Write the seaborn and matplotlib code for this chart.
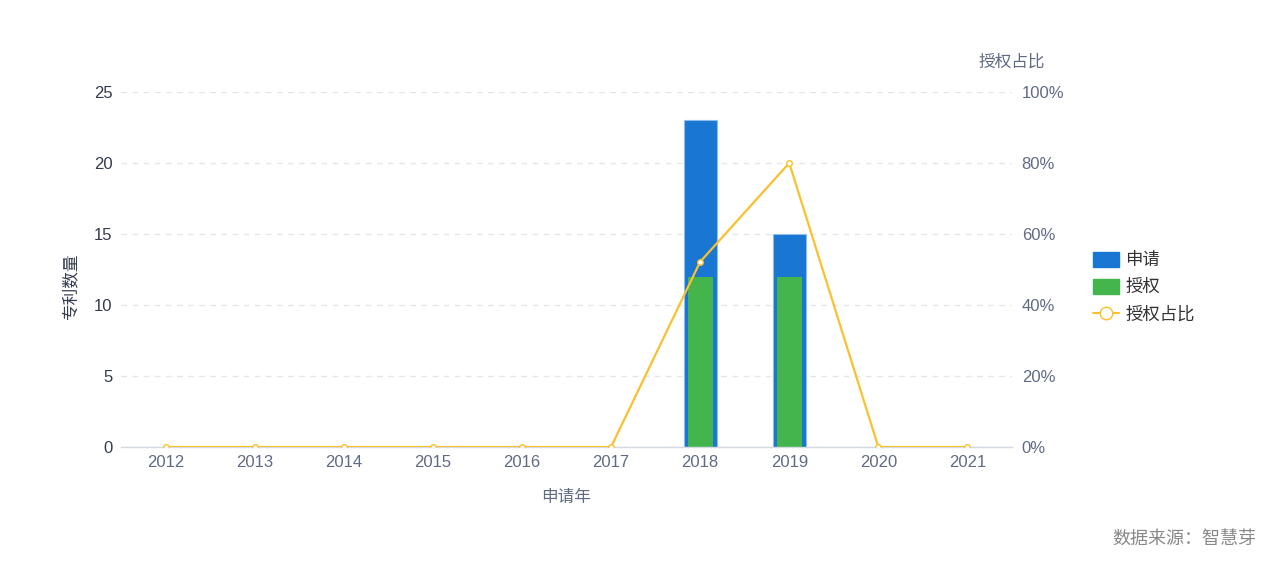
import numpy as np
import pandas as pd
import matplotlib
matplotlib.use("Agg")
import matplotlib.pyplot as plt
import seaborn as sns
from matplotlib.patches import Patch
from matplotlib.lines import Line2D
from matplotlib.ticker import FuncFormatter

years = ["2012", "2013", "2014", "2015", "2016", "2017", "2018", "2019", "2020", "2021"]
applied = [0, 0, 0, 0, 0, 0, 23, 15, 0, 0]
granted = [0, 0, 0, 0, 0, 0, 12, 12, 0, 0]
ratio = [0, 0, 0, 0, 0, 0, 52.17, 80.0, 0, 0]

sns.set_theme(style="white")
plt.rcParams['font.family'] = ['Liberation Sans', 'Noto Sans CJK SC', 'DejaVu Sans']

df = pd.DataFrame({"year": years, "applied": applied, "granted": granted, "ratio": ratio})

BLUE = "#1976D2"
GREEN = "#43B54C"
YELLOW = "#FBC02D"
TICK = "#5F6B85"
DARK = "#333B4E"
FS = 12

fig = plt.figure(figsize=(12.66, 5.61), dpi=100)
ax = fig.add_axes([121/1266, 1 - 447/561, (1012-121)/1266, (447-92)/561])

sns.barplot(data=df, x="year", y="applied", color=BLUE, width=0.37, ax=ax,
            saturation=1, edgecolor="#8FBDEB", linewidth=0.8, order=years)
sns.barplot(data=df, x="year", y="granted", color=GREEN, width=0.28, ax=ax,
            saturation=1, linewidth=0, order=years)

ax.set_ylim(0, 25)
ax.set_yticks([0, 5, 10, 15, 20, 25])
ax.set_xlim(-0.5, 9.5)
ax.grid(axis="y", color="#E3E6EC", linestyle=(0, (4, 4)), linewidth=1)
ax.set_axisbelow(True)
for s in ["top", "right", "left"]:
    ax.spines[s].set_visible(False)
ax.spines["bottom"].set_color("#D5D9E0")
ax.spines["bottom"].set_linewidth(1)
ax.tick_params(axis="y", length=0, pad=6, labelsize=FS, labelcolor=DARK)
ax.tick_params(axis="x", length=0, pad=6, labelsize=FS, labelcolor=TICK)
ax.set_xlabel("申请年", fontsize=FS, color=TICK, labelpad=14)
ax.set_ylabel("专利数量", fontsize=FS, color=DARK)
ax.yaxis.set_label_coords(-0.048, 0.45)

ax2 = ax.twinx()
sns.lineplot(data=df, x="year", y="ratio", color=YELLOW, linewidth=1.6, ax=ax2,
             marker="o", markersize=4, markerfacecolor="white",
             markeredgecolor=YELLOW, markeredgewidth=1)
ax2.set_ylim(0, 100)
ax2.set_yticks([0, 20, 40, 60, 80, 100])
ax2.yaxis.set_major_formatter(FuncFormatter(lambda v, p: f"{int(v)}%"))
ax2.set_xlim(-0.5, 9.5)
for s in ["top", "right", "left", "bottom"]:
    ax2.spines[s].set_visible(False)
ax2.tick_params(axis="y", length=0, pad=7, labelsize=FS, labelcolor=TICK)
ax2.set_ylabel("")
ax2.set_xlabel("")
ax2.grid(False)
fig.text(1012/1266, 1 - 62/561, "授权占比", fontsize=FS, color=TICK, ha="center", va="center")

handles = [
    Patch(facecolor=BLUE, edgecolor=BLUE, label="申请"),
    Patch(facecolor=GREEN, edgecolor=GREEN, label="授权"),
    Line2D([0], [0], color=YELLOW, marker="o", markersize=9, markerfacecolor="white",
           markeredgecolor=YELLOW, linewidth=1.5, label="授权占比"),
]
leg = fig.legend(handles=handles, loc="center left", bbox_to_anchor=(1086/1266, 1 - 287/561),
                 frameon=False, fontsize=12.5, handlelength=1.5, handleheight=1.0,
                 labelspacing=0.6, handletextpad=0.35, borderaxespad=0)
for t in leg.get_texts():
    t.set_color("#333333")

fig.text(1256/1266, 1 - 539/561, "数据来源：智慧芽", fontsize=13, color="#888888", ha="right", va="center")

fig.savefig("out.png", dpi=100)
